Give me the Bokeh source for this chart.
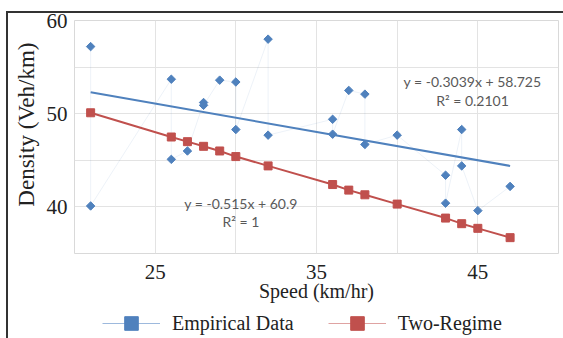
import math
from bokeh.plotting import figure
from bokeh.layouts import column
from bokeh.models import (Range1d, FixedTicker, Label, Legend, LegendItem,
                          Title, ColumnDataSource, InlineStyleSheet)
from bokeh.embed import file_html
from bokeh.resources import INLINE

# ---- data ----
emp_speed = [21, 21, 26, 26, 27, 28, 28, 29, 30, 30, 32, 32, 36, 36, 37, 38, 38,
             40, 43, 43, 44, 44, 45, 47]
emp_density = [57.2, 40.1, 53.7, 45.1, 46.0, 51.2, 50.9, 53.6, 53.4, 48.3, 58.0,
               47.7, 49.4, 47.8, 52.5, 52.1, 46.7, 47.7, 43.4, 40.4, 48.3, 44.4,
               39.6, 42.2]

tr_speed = [21, 26, 27, 28, 29, 30, 32, 36, 37, 38, 40, 43, 44, 45, 47]
tr_density = [50.1, 47.5, 47.0, 46.5, 46.0, 45.4, 44.4, 42.4, 41.8, 41.3, 40.3,
              38.8, 38.2, 37.7, 36.7]

trend_speed = [21, 47]
trend_density = [52.3, 44.4]

x_ticks = [25, 35, 45]
y_ticks = [40, 50, 60]
x_grid = [20, 25, 30, 35, 40, 45, 50]
y_grid = [35, 40, 45, 50, 55, 60]

eq_emp = "y = -0.3039x + 58.725"
r2_emp = "R\u00b2 = 0.2101"
eq_tr = "y = -0.515x + 60.9"
r2_tr = "R\u00b2 = 1"

BLUE = "#4F81BD"
RED = "#C0504D"
SERIF = "Liberation Serif"

p = figure(width=563, height=305, output_backend="svg", toolbar_location=None,
           x_range=Range1d(20, 50), y_range=Range1d(35, 60),
           min_border_left=74, min_border_right=5, min_border_top=20,
           min_border_bottom=52)
p.background_fill_color = "white"
p.border_fill_color = "white"
p.outline_line_color = "#d9d9d9"

p.xaxis.ticker = FixedTicker(ticks=x_ticks)
p.yaxis.ticker = FixedTicker(ticks=y_ticks)
p.xgrid.ticker = FixedTicker(ticks=x_grid)
p.ygrid.ticker = FixedTicker(ticks=y_grid)
for g in (p.xgrid, p.ygrid):
    g.grid_line_color = "#e3e3e3"
    g.grid_line_width = 1

for ax in (p.xaxis, p.yaxis):
    ax.axis_line_color = None
    ax.major_tick_line_color = None
    ax.minor_tick_line_color = None
    ax.major_label_text_font = SERIF
    ax.major_label_text_font_size = "21px"
    ax.major_label_text_color = "#222222"
p.xaxis.major_label_standoff = 5
p.yaxis.major_label_standoff = 1

p.xaxis.axis_label = "Speed (km/hr)"
p.xaxis.axis_label_text_font = SERIF
p.xaxis.axis_label_text_font_size = "20px"
p.xaxis.axis_label_text_font_style = "normal"
p.xaxis.axis_label_text_color = "#222222"
p.xaxis.axis_label_standoff = -2

# faint connecting line of empirical data
emp_src = ColumnDataSource(dict(x=emp_speed, y=emp_density))
p.line("x", "y", source=emp_src, line_color=BLUE, line_alpha=0.1, line_width=1)

# trend line
p.line(trend_speed, trend_density, line_color=BLUE, line_width=2)

# two-regime line and markers
tr_src = ColumnDataSource(dict(x=tr_speed, y=tr_density))
p.line("x", "y", source=tr_src, line_color=RED, line_width=2)
p.scatter("x", "y", source=tr_src, marker="square", size=8,
          fill_color=RED, line_color=RED)

# empirical diamonds (rotated squares)
p.scatter("x", "y", source=emp_src, marker="square", size=6, angle=math.pi / 4,
          fill_color=BLUE, line_color=BLUE)

# equation labels
for txt, x, y in [(eq_emp, 44.67, 53.46), (r2_emp, 44.67, 51.43),
                  (eq_tr, 30.32, 40.35), (r2_tr, 30.32, 38.38)]:
    p.add_layout(Label(x=x, y=y, text=txt, text_align="center",
                       text_baseline="middle", text_font="Lato",
                       text_font_size="14px", text_color="#595959"))

# y axis title
p.add_layout(Title(text="Density (Veh/km)", align="right", offset=22,
                   text_font=SERIF, text_font_size="23px",
                   text_font_style="normal", text_color="#222222"), "left")

# ---- legend strip (a figure whose frame is aligned with the chart's) ----
q = figure(width=563, height=33, output_backend="svg", toolbar_location=None,
           x_range=Range1d(0, 1), y_range=Range1d(0, 1),
           x_axis_location=None, y_axis_location=None,
           min_border_left=0, min_border_right=0, min_border_top=0,
           min_border_bottom=0)
q.grid.visible = False
q.outline_line_color = None
q.background_fill_color = "white"
q.border_fill_color = "white"

lg_l1 = q.line("x", "y", source=emp_src, line_color="#9DB9DD", line_width=1)
lg_m1 = q.scatter("x", "y", source=emp_src, marker="square", angle=math.pi / 4,
                  size=13, fill_color=BLUE, line_color=BLUE)
lg_l2 = q.line("x", "y", source=tr_src, line_color="#DFA3A2", line_width=1)
lg_m2 = q.scatter("x", "y", source=tr_src, marker="square", size=14,
                  fill_color=RED, line_color=RED)

legend = Legend(items=[LegendItem(label="Empirical Data", renderers=[lg_l1, lg_m1]),
                       LegendItem(label="Two-Regime", renderers=[lg_l2, lg_m2])],
                orientation="horizontal", location=(28, -2),
                glyph_width=58, glyph_height=34, label_standoff=12, spacing=34,
                padding=0, margin=0, border_line_color=None,
                background_fill_alpha=0,
                label_text_font=SERIF, label_text_font_size="20px",
                label_text_color="#222222")
q.add_layout(legend, "center")

frame_css = InlineStyleSheet(css="""
:host::after {
  content: "";
  position: absolute;
  box-sizing: border-box;
  left: 6px; top: 11px; width: 557px; height: 327px;
  border-left: 2px solid #333333;
  border-top: 2px solid #333333;
  pointer-events: none;
}
""")

layout = column(p, q, spacing=0, stylesheets=[frame_css])

open("out.html", "w").write(file_html(layout, INLINE))
